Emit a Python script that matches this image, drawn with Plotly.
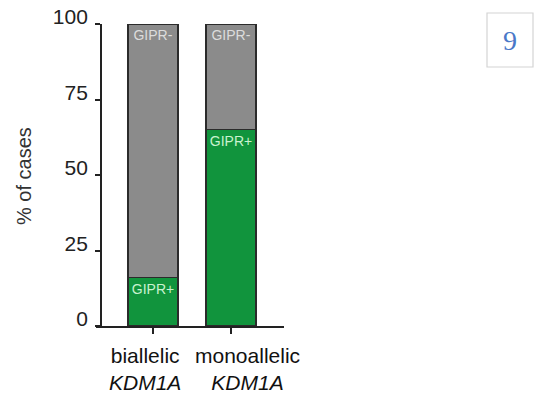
import plotly.graph_objects as go

W, H = 545, 398

categories = ["biallelic KDM1A", "monoallelic KDM1A"]
cat_labels = ["biallelic<br><i>KDM1A</i>", "monoallelic<br><i>KDM1A</i>"]
gipr_pos = [16, 65]
gipr_neg = [84, 35]
y_ticks = [0, 25, 50, 75, 100]
panel_number = "9"

GREEN = "#11943d"
GRAY = "#8b8b8b"
EDGE = "#2b2b2b"
AX = "#222222"


def fx(px):
    return px / W


def fy(py):
    return 1 - py / H


fig = go.Figure()
fig.add_trace(go.Bar(
    x=categories, y=gipr_pos, name="GIPR+",
    marker=dict(color=GREEN, line=dict(color=EDGE, width=1.5)),
    width=0.64,
    text=["GIPR+"] * len(categories), textposition="inside",
    insidetextanchor="end", constraintext="none",
    textfont=dict(family="Liberation Sans, Arial", size=14, color="#c9f2cf"),
))
fig.add_trace(go.Bar(
    x=categories, y=gipr_neg, name="GIPR-",
    marker=dict(color=GRAY, line=dict(color=EDGE, width=1.5)),
    width=0.64,
    text=["GIPR-"] * len(categories), textposition="inside",
    insidetextanchor="end", constraintext="none",
    textfont=dict(family="Liberation Sans, Arial", size=14, color="#dcdcdc"),
))

fig.update_layout(
    width=W, height=H,
    margin=dict(l=0, r=0, t=0, b=0),
    barmode="stack",
    showlegend=False,
    plot_bgcolor="white",
    paper_bgcolor="white",
    font=dict(family="Liberation Sans, Arial", color=AX),
    xaxis=dict(
        type="category",
        domain=[fx(96), fx(284)],
        range=[-0.731, 1.679],
        showline=True, linecolor=AX, linewidth=1.8,
        ticks="outside", ticklen=6, tickwidth=1.5, tickcolor=AX,
        showticklabels=False, showgrid=False, zeroline=False,
        fixedrange=True,
    ),
    yaxis=dict(
        domain=[fy(326), fy(24)],
        range=[0, 100],
        anchor="free", position=fx(101),
        showline=True, linecolor=AX, linewidth=1.8,
        ticks="outside", ticklen=5, tickwidth=1.5, tickcolor=AX,
        tickvals=y_ticks, ticktext=[str(v) for v in y_ticks],
        tickfont=dict(size=21, color=AX),
        ticklabelstandoff=3, ticklabelshift=-7,
        showgrid=False, zeroline=False, automargin=False,
    ),
)

# y-axis title
fig.add_annotation(
    text="% of cases", textangle=-90,
    xref="paper", yref="paper", x=fx(24), y=fy(176),
    xanchor="center", yanchor="middle",
    showarrow=False, font=dict(size=20, color="#333333"),
)

# category labels under the axis
shifts = [-8, 16]
for c, lab, s in zip(categories, cat_labels, shifts):
    fig.add_annotation(
        text=lab, x=c, y=0, xref="x", yref="y",
        xanchor="center", yanchor="top", yshift=-16, xshift=s,
        showarrow=False, align="center",
        font=dict(size=21, color="#111111"),
    )

# panel number box
fig.add_shape(type="rect", xref="paper", yref="paper",
              x0=fx(487), x1=fx(533), y0=fy(67), y1=fy(13),
              line=dict(color="#d4d4d4", width=1.2), fillcolor="white")
fig.add_annotation(
    text=panel_number, xref="paper", yref="paper", x=fx(510), y=fy(41),
    xanchor="center", yanchor="middle",
    showarrow=False, font=dict(family="Liberation Serif, DejaVu Serif", size=28, color="#4a78c8"),
)

fig.write_html("out.html")
